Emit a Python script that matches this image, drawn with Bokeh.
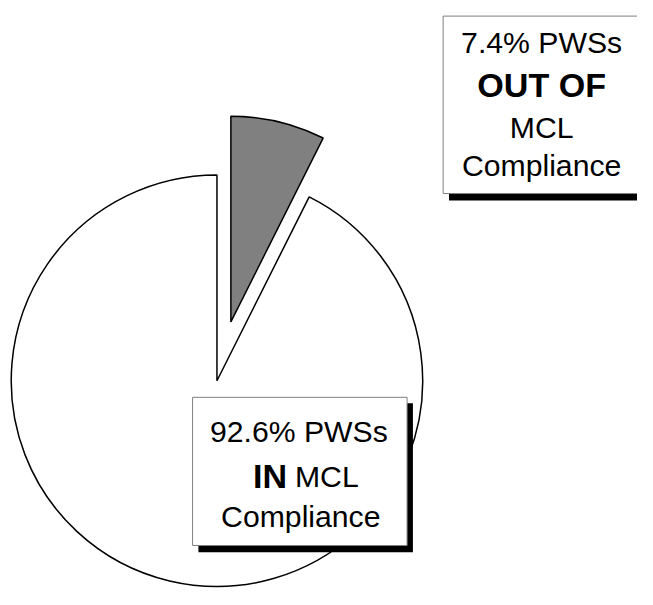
import math
from bokeh.plotting import figure
from bokeh.models import Range1d
from bokeh.core.properties import value
from bokeh.embed import file_html
from bokeh.resources import INLINE

# ---- data ----
categories = ["IN MCL Compliance", "OUT OF MCL Compliance"]
percents = [92.6, 7.4]
fills = ["white", "#808080"]
explode = [0, 62]
label_out = ["7.4% PWSs", "OUT OF", "MCL", "Compliance"]
label_in = ["92.6% PWSs", "IN", "MCL", "Compliance"]

H = 605  # reference picture height (picture y -> data y)
W_PX, H_PX = 637, 589
S = 0.975  # scale of the whole picture so that it fits the window


def Y(py):
    return H - py


p = figure(width=W_PX, height=H_PX,
           x_range=Range1d(0, W_PX / S), y_range=Range1d(H - H_PX / S, H),
           output_backend="svg", toolbar_location=None, min_border=0)
p.axis.visible = False
p.grid.visible = False
p.outline_line_color = None
p.background_fill_color = "white"

cx, cy, R = 222, Y(390), 211
total = sum(percents)
order = [1, 0]  # start at 12 o'clock, clockwise
ang = 90.0
for i in order:
    sweep = percents[i] / total * 360.0
    end = ang
    start = ang - sweep
    mid = math.radians((start + end) / 2)
    ox = explode[i] * math.cos(mid)
    oy = explode[i] * math.sin(mid)
    p.wedge(x=cx + ox, y=cy + oy, radius=R, start_angle=math.radians(start),
            end_angle=math.radians(end), direction="anticlock",
            fill_color=fills[i], line_color="black", line_width=1.5)
    ang = start

FONT = value("Liberation Sans")
FIX = 9  # baseline correction


def box(x0, x1, py0, py1, sh=6):
    p.quad(left=x0 + sh, right=x1 + sh, top=Y(py0 + sh), bottom=Y(py1 + sh + 1),
           fill_color="black", line_color=None)
    p.quad(left=x0, right=x1, top=Y(py0), bottom=Y(py1),
           fill_color="white", line_color="#7f7f7f", line_width=1)


def txt(x, py, s, bold=False, align="center"):
    size = (35 if bold else 31) * S
    p.text(x=[x], y=[Y(py) + FIX], text=[s], text_font=FONT,
           text_font_size=f"{size:.1f}px",
           text_font_style="bold" if bold else "normal",
           text_align=align, text_baseline="alphabetic", text_color="black")


# OUT OF box (runs past the right edge, as in the original)
box(454, 664, 16, 198)
for s, by, bold in zip(label_out, [52, 96, 139, 178], [False, True, False, False]):
    txt(555, by, s, bold)

# IN box
box(197, 417, 407, 559)
txt(306, 451, label_in[0])
txt(294, 497, label_in[1], bold=True, align="right")
txt(302, 497, label_in[2], align="left")
txt(308, 538, label_in[3])

open("out.html", "w").write(file_html(p, INLINE))
